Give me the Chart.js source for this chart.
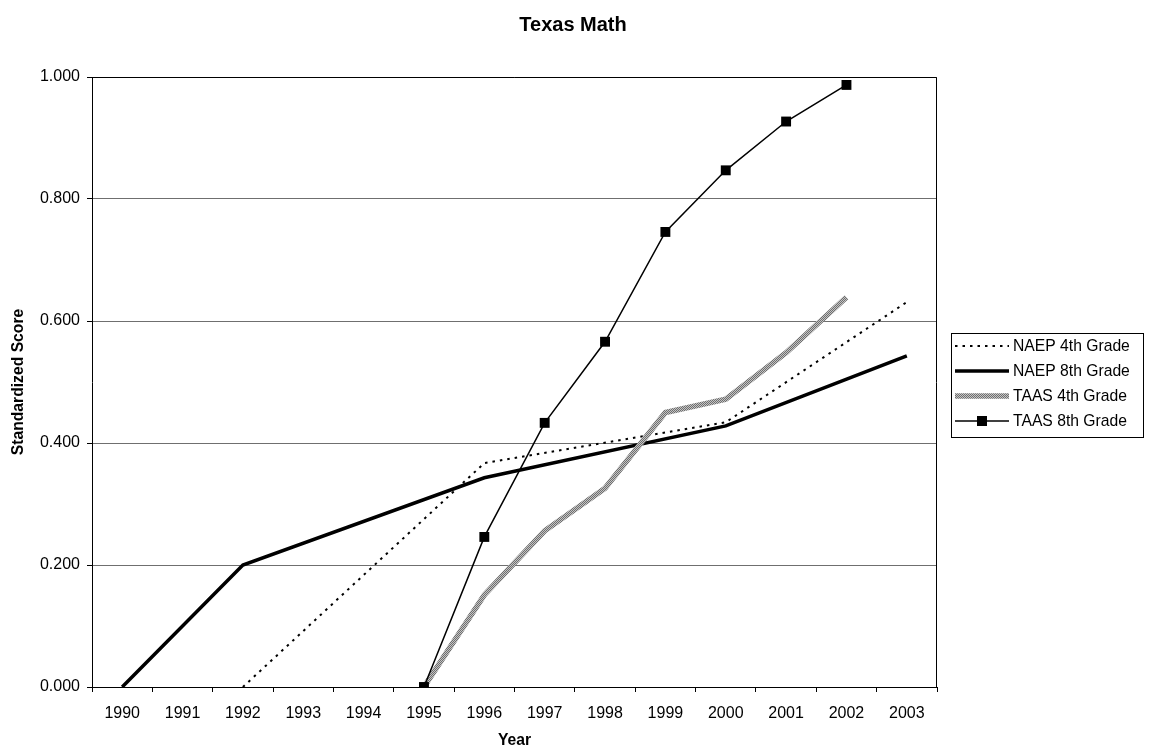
<!DOCTYPE html>
<html>
<head>
<meta charset="utf-8">
<title>Texas Math</title>
<script src="https://cdn.jsdelivr.net/npm/chart.js@4.4.1/dist/chart.umd.min.js"></script>
<style>
  html, body { margin: 0; padding: 0; background: #fff; }
  #wrap { width: 1151px; height: 753px; }
</style>
</head>
<body>
<div id="wrap"><canvas id="c" width="1151" height="753"></canvas></div>
<script>
// Years on the category axis
const years = ['1990','1991','1992','1993','1994','1995','1996','1997','1998','1999','2000','2001','2002','2003'];

// Standardized scores (null = no test that year)
const naep4 = [null, null, 0.000, null, null, null, 0.367, null, null, null, 0.434, null, null, 0.631];
const naep8 = [0.000, null, 0.200, null, null, null, 0.343, null, null, null, 0.428, null, null, 0.543];
const taas4 = [null, null, null, null, null, 0.000, 0.151, 0.256, 0.326, 0.450, 0.472, 0.548, 0.639, null];
const taas8 = [null, null, null, null, null, 0.000, 0.246, 0.433, 0.566, 0.746, 0.847, 0.927, 0.987, null];

const seriesNames = ['NAEP 4th Grade', 'NAEP 8th Grade', 'TAAS 4th Grade', 'TAAS 8th Grade'];
const yTicks = [0, 0.2, 0.4, 0.6, 0.8, 1.0];
const chartTitle = 'Texas Math';
const xTitle = 'Year';
const yTitle = 'Standardized Score';

const FONT = '"Liberation Sans", Arial, Helvetica, sans-serif';

// grainy grey fill for the TAAS 4th Grade line
function greyPattern() {
  const p = document.createElement('canvas');
  p.width = 2; p.height = 2;
  const g = p.getContext('2d');
  g.fillStyle = '#c4c4c4'; g.fillRect(0, 0, 2, 2);
  g.fillStyle = '#6e6e6e'; g.fillRect(0, 0, 1, 1); g.fillRect(1, 1, 1, 1);
  return document.getElementById('c').getContext('2d').createPattern(p, 'repeat');
}
const greyFill = greyPattern();

// Title, plot frame and boxed legend
const decorations = {
  id: 'decorations',
  afterDraw(chart) {
    const ctx = chart.ctx;
    const a = chart.chartArea;
    ctx.save();
    // frame top + right
    ctx.strokeStyle = '#000';
    ctx.lineWidth = 1;
    ctx.beginPath();
    ctx.moveTo(Math.round(a.left) + 0.5, Math.round(a.top) + 0.5);
    ctx.lineTo(Math.round(a.right) - 0.5, Math.round(a.top) + 0.5);
    ctx.lineTo(Math.round(a.right) - 0.5, Math.round(a.bottom) + 0.5);
    ctx.stroke();

    // title
    ctx.fillStyle = '#000';
    ctx.font = 'bold 20px ' + FONT;
    ctx.textAlign = 'center';
    ctx.textBaseline = 'middle';
    ctx.fillText(chartTitle, 573, 25);

    // legend box
    const bx = 951.5, by = 333.5, bw = 192, bh = 104;
    ctx.fillStyle = '#fff';
    ctx.fillRect(bx, by, bw, bh);
    ctx.strokeStyle = '#000';
    ctx.lineWidth = 1;
    ctx.strokeRect(bx, by, bw, bh);

    ctx.font = '15.7px ' + FONT;
    ctx.textAlign = 'left';
    ctx.textBaseline = 'middle';
    const rows = [346, 371, 396, 421];
    chart.data.datasets.forEach((ds, i) => {
      const y = rows[i];
      const x0 = 955, x1 = 1009;
      ctx.save();
      ctx.strokeStyle = ds.borderColor;
      ctx.lineWidth = ds.borderWidth;
      ctx.setLineDash(ds.borderDash || []);
      ctx.beginPath();
      ctx.moveTo(x0, y);
      ctx.lineTo(x1, y);
      ctx.stroke();
      ctx.restore();
      if (ds.pointRadius > 0) {
        const s = 10;
        ctx.fillStyle = '#000';
        ctx.fillRect((x0 + x1) / 2 - s / 2, y - s / 2, s, s);
      }
      ctx.fillStyle = '#000';
      ctx.fillText(ds.label, 1013, y + 1);
    });
    ctx.restore();
  }
};

new Chart(document.getElementById('c'), {
  type: 'line',
  data: {
    labels: years,
    datasets: [
      {
        label: seriesNames[0], data: naep4,
        borderColor: '#000', borderWidth: 2, borderDash: [2.5, 5],
        pointRadius: 0, spanGaps: true, order: 4
      },
      {
        label: seriesNames[1], data: naep8,
        borderColor: '#000', borderWidth: 3.5,
        pointRadius: 0, spanGaps: true, order: 3
      },
      {
        label: seriesNames[2], data: taas4,
        borderColor: greyFill, borderWidth: 5.5,
        pointRadius: 0, spanGaps: true, order: 2
      },
      {
        label: seriesNames[3], data: taas8,
        borderColor: '#000', borderWidth: 1.5,
        pointStyle: 'rect', pointRadius: 7, pointBackgroundColor: '#000',
        pointBorderColor: '#000', pointBorderWidth: 0,
        spanGaps: true, order: 1
      }
    ]
  },
  options: {
    responsive: false,
    animation: false,
    devicePixelRatio: 1,
    layout: { padding: { left: 0, right: 214, top: 77, bottom: 0 } },
    plugins: {
      legend: { display: false },
      title: { display: false },
      tooltip: { enabled: false }
    },
    elements: { line: { tension: 0, borderCapStyle: 'butt', borderJoinStyle: 'miter' } },
    scales: {
      x: {
        type: 'category',
        offset: true,
        afterFit(scale) { scale.height = 66; },
        grid: {
          display: true, offset: true, drawOnChartArea: false, drawTicks: true,
          tickLength: 5, tickColor: '#000', tickWidth: 1
        },
        border: { display: true, color: '#000', width: 1 },
        ticks: {
          color: '#000', padding: 12, maxRotation: 0, autoSkip: false,
          font: { family: FONT, size: 16 }
        },
        title: {
          display: true, text: xTitle, color: '#000',
          font: { family: FONT, size: 15.7, weight: 'bold' },
          padding: { top: 0, bottom: 3 }
        }
      },
      y: {
        min: 0, max: 1,
        afterFit(scale) { scale.width = 92; },
        afterBuildTicks(scale) { scale.ticks = yTicks.map(v => ({ value: v })); },
        grid: {
          color: '#6f6f6f', lineWidth: 1, drawTicks: true,
          tickLength: 5, tickColor: '#000'
        },
        border: { display: true, color: '#000', width: 1 },
        ticks: {
          color: '#000', padding: 7,
          font: { family: FONT, size: 16 },
          callback: v => Number(v).toFixed(3)
        },
        title: {
          display: true, text: yTitle, color: '#000',
          font: { family: FONT, size: 15.7, weight: 'bold' },
          padding: { top: 9, bottom: 0 }
        }
      }
    }
  },
  plugins: [decorations]
});
</script>
</body>
</html>
